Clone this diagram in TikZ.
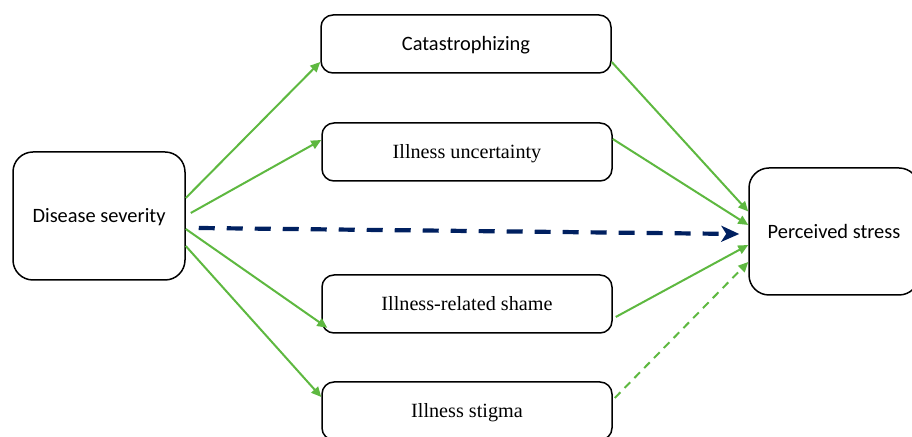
\documentclass[tikz,border=0pt]{standalone}
\usepackage{fontspec}
\newfontfamily\calfont{Carlito}
\newfontfamily\tnrfont{Liberation Serif}
\usetikzlibrary{arrows.meta}
\definecolor{grn}{RGB}{94,184,64}
\definecolor{navy}{RGB}{0,32,96}
\tikzset{
  bigbox/.style={draw=black, line width=0.75pt, rounded corners=10pt, minimum width=86pt, minimum height=64pt, inner sep=0pt, text height=6.6pt, text depth=0pt, font=\calfont\fontsize{10.2pt}{12pt}\selectfont},
  midbox/.style={draw=black, line width=0.75pt, rounded corners=6pt, minimum width=145pt, minimum height=29pt, inner sep=0pt, text height=6.6pt, text depth=0pt},
  sanstext/.style={font=\calfont\fontsize{10.2pt}{12pt}\selectfont},
  seriftext/.style={font=\tnrfont\fontsize{10.1pt}{12pt}\selectfont},
  grnarrow/.style={draw=grn, line width=1pt, -{Triangle[length=5pt,width=4.5pt]}},
  navyarrow/.style={draw=navy, line width=2.1pt, dash pattern=on 8pt off 6pt, -{Stealth[length=9pt,width=8pt,inset=2.5pt]}}
}
\begin{document}
\begin{tikzpicture}[x=0.5pt,y=-0.5pt]
\useasboundingbox (0,0) rectangle (912,437);
\clip (0,0) rectangle (912,437);
\node[bigbox] (dis) at (99,216) {Disease severity};
\node[midbox,sanstext] (cat) at (466,44) {Catastrophizing};
\node[midbox,seriftext] (unc) at (467,152) {Illness uncertainty};
\node[midbox,seriftext] (sha) at (467,304) {Illness-related shame};
\node[midbox,seriftext] (sti) at (467,411) {Illness stigma};
\node[bigbox, minimum width=85pt, minimum height=63.5pt] (ps) at (834,231.5) {Perceived stress};
% from disease severity
\draw[grnarrow] ([yshift=9pt]dis.east) -- ([yshift=-9pt]cat.west);
\draw[grnarrow] ([xshift=2.5pt,yshift=1.5pt]dis.east) -- ([yshift=6pt]unc.west);
\draw[grnarrow] ([yshift=-6.5pt]dis.east) -- ([xshift=3pt,yshift=3pt]sha.south west);
\draw[grnarrow] ([yshift=-15pt]dis.east) -- ([yshift=7pt]sti.west);
\draw[navyarrow] ([xshift=6.5pt,yshift=-6pt]dis.east) -- ([xshift=-4.5pt,yshift=-1.25pt]ps.west);
% to perceived stress
\draw[grnarrow] ([yshift=-9pt]cat.east) -- ([yshift=10pt]ps.west);
\draw[grnarrow] ([yshift=6.5pt]unc.east) -- ([yshift=3.25pt]ps.west);
\draw[grnarrow] ([xshift=1.5pt,yshift=-6.5pt]sha.east) -- ([yshift=-6.75pt]ps.west);
\draw[grnarrow, dash pattern=on 4pt off 3pt] ([xshift=1pt,yshift=6.5pt]sti.east) -- ([yshift=-15.25pt]ps.west);
\end{tikzpicture}
\end{document}
